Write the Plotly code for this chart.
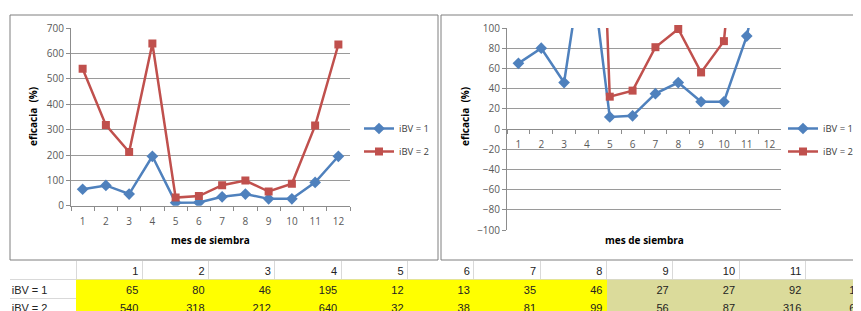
import numpy as np
import plotly.graph_objects as go

# ---------------- data ----------------
months = [str(m) for m in range(1, 13)]
ibv1 = [65, 80, 46, 195, 12, 13, 35, 46, 27, 27, 92, 195]
ibv2 = [540, 318, 212, 640, 32, 38, 81, 99, 56, 87, 316, 636]
series_names = ["iBV = 1", "iBV = 2"]
row_labels = ["iBV = 1", "iBV = 2"]
highlight_group = [1, 1, 1, 1, 1, 1, 1, 1, 2, 2, 2, 2]   # 1 = yellow, 2 = khaki

# ---------------- layout helpers ----------------
W, H = 861, 311
OFF = 8   # page body margin offset
def fx(p):
    return (p - OFF) / W
def fy(p):
    return 1 - (p - OFF) / H

BLUE = "#4F81BD"
RED = "#C0504D"
GRID = "#9A9A9A"
AXIS = "#8C8C8C"
TICKC = "#595959"
FONT = "Open Sans, Liberation Sans, sans-serif"
TFONT = "Liberation Sans Narrow, Arial Narrow, Liberation Sans, sans-serif"

fig = go.Figure()

# ---------------- charts ----------------
for (xa, ya, leg, clip) in [("x", "y", "legend", True), ("x2", "y2", "legend2", False)]:
    fig.add_trace(go.Scatter(
        x=months, y=ibv1, name=series_names[0], mode="lines+markers",
        line=dict(color=BLUE, width=2.5),
        marker=dict(symbol="diamond", size=9, color=BLUE),
        xaxis=xa, yaxis=ya, legend=leg, legendgroup=leg + "a",
        cliponaxis=clip, hoverinfo="skip"))
    fig.add_trace(go.Scatter(
        x=months, y=ibv2, name=series_names[1], mode="lines+markers",
        line=dict(color=RED, width=2.5),
        marker=dict(symbol="square", size=8, color=RED),
        xaxis=xa, yaxis=ya, legend=leg, legendgroup=leg + "b",
        cliponaxis=clip, hoverinfo="skip"))

# ---------------- table ----------------
months_num = np.arange(1, 13)
fig.add_trace(go.Heatmap(
    z=[highlight_group, highlight_group], x=months_num, y=[1, 2],
    zmin=1, zmax=2,
    colorscale=[[0, "#FFFF00"], [0.5, "#FFFF00"], [0.5, "#DBDB9B"], [1, "#DBDB9B"]],
    showscale=False, hoverinfo="skip", xaxis="x3", yaxis="y3"))

tfont = dict(family=TFONT, size=11, color="#222")
fig.add_trace(go.Scatter(
    x=months_num + 0.44, y=[0.1] * 12, text=months, mode="text",
    textposition="middle left", textfont=tfont,
    xaxis="x3", yaxis="y3", showlegend=False, hoverinfo="skip"))
for r, vals in enumerate([ibv1, ibv2], start=1):
    fig.add_trace(go.Scatter(
        x=months_num + 0.44, y=[r + 0.1] * 12, text=[str(v) for v in vals], mode="text",
        textposition="middle left", textfont=tfont,
        xaxis="x3", yaxis="y3", showlegend=False, hoverinfo="skip"))
fig.add_trace(go.Scatter(
    x=[-0.47, -0.47], y=[1.1, 2.1], text=row_labels, mode="text",
    textposition="middle right", textfont=tfont,
    xaxis="x3", yaxis="y3", showlegend=False, hoverinfo="skip"))

col_w = 66.3
row_h = 18.7
x3_left = 9.7
x3_max = (W + OFF - x3_left) / col_w - 0.5
y3_max = (H + OFF - 261) / row_h - 0.5

tickfont = dict(family=FONT, size=10, color=TICKC)
common_x = dict(type="category", categoryorder="array", categoryarray=months,
                range=[-0.5, 11.5], tickson="boundaries", ticks="outside", ticklen=4,
                tickcolor=AXIS, showline=True, linecolor=AXIS, linewidth=1,
                showgrid=False, tickfont=tickfont, ticklabelstandoff=6, fixedrange=True)
common_y = dict(showgrid=True, gridcolor=GRID, gridwidth=1, showline=True,
                linecolor=AXIS, ticks="outside", ticklen=4, tickcolor=AXIS,
                zeroline=False, tickfont=tickfont, fixedrange=True)
legfont = dict(family=FONT, size=9.5, color="#404040")

fig.update_layout(
    width=W, height=H, margin=dict(l=0, r=0, t=0, b=0, pad=0, autoexpand=False),
    paper_bgcolor="white", plot_bgcolor="white",
    font=dict(family=FONT, size=10, color="#404040"),
    xaxis=dict(domain=[fx(71), fx(350)], anchor="y", **common_x),
    yaxis=dict(domain=[fy(205.7), fy(28.3)], anchor="x", range=[0, 700], dtick=100, **common_y),
    xaxis2=dict(domain=[fx(507), fx(781)], anchor="free", position=fy(129), **common_x),
    yaxis2=dict(domain=[fy(230), fy(28)], anchor="x2", range=[-100, 100], dtick=20, **common_y),
    xaxis3=dict(domain=[fx(x3_left), 1], anchor="y3", range=[-0.5, x3_max],
                tick0=0.5, dtick=1, showgrid=True, gridcolor="#D9D9D9",
                showticklabels=False, ticks="", zeroline=False, fixedrange=True),
    yaxis3=dict(domain=[0, fy(261)], anchor="x3", range=[y3_max, -0.5],
                tick0=0.5, dtick=1, showgrid=True, gridcolor="#D9D9D9",
                showticklabels=False, ticks="", zeroline=False, fixedrange=True),
    legend=dict(x=fx(359), y=fy(114), xanchor="left", yanchor="top",
                bgcolor="rgba(0,0,0,0)", itemwidth=30, tracegroupgap=4, font=legfont),
    legend2=dict(x=fx(858), y=fy(114), xanchor="right", yanchor="top",
                 bgcolor="rgba(0,0,0,0)", itemwidth=30, tracegroupgap=4, font=legfont),
    showlegend=True,
)

# chart borders
fig.add_shape(type="rect", xref="paper", yref="paper",
              x0=fx(10), x1=fx(438), y0=fy(260), y1=fy(15),
              line=dict(color="#7F7F7F", width=1), layer="below")
fig.add_shape(type="rect", xref="paper", yref="paper",
              x0=fx(441), x1=fx(890), y0=fy(260), y1=fy(15),
              line=dict(color="#7F7F7F", width=1), layer="below")

# axis titles
title_font = dict(family=FONT, size=10, color="#000000")
for (xp, yp) in [(33, 117), (465, 117)]:
    fig.add_annotation(text="<b>eficacia  (%)</b>", xref="paper", yref="paper",
                       x=fx(xp), y=fy(yp), xanchor="center", yanchor="middle",
                       textangle=-90, showarrow=False, font=title_font)
for (xp, yp) in [(210.5, 240), (644, 240)]:
    fig.add_annotation(text="<b>mes de siembra</b>", xref="paper", yref="paper",
                       x=fx(xp), y=fy(yp), xanchor="center", yanchor="middle",
                       showarrow=False, font=title_font)

fig.write_html("out.html")
